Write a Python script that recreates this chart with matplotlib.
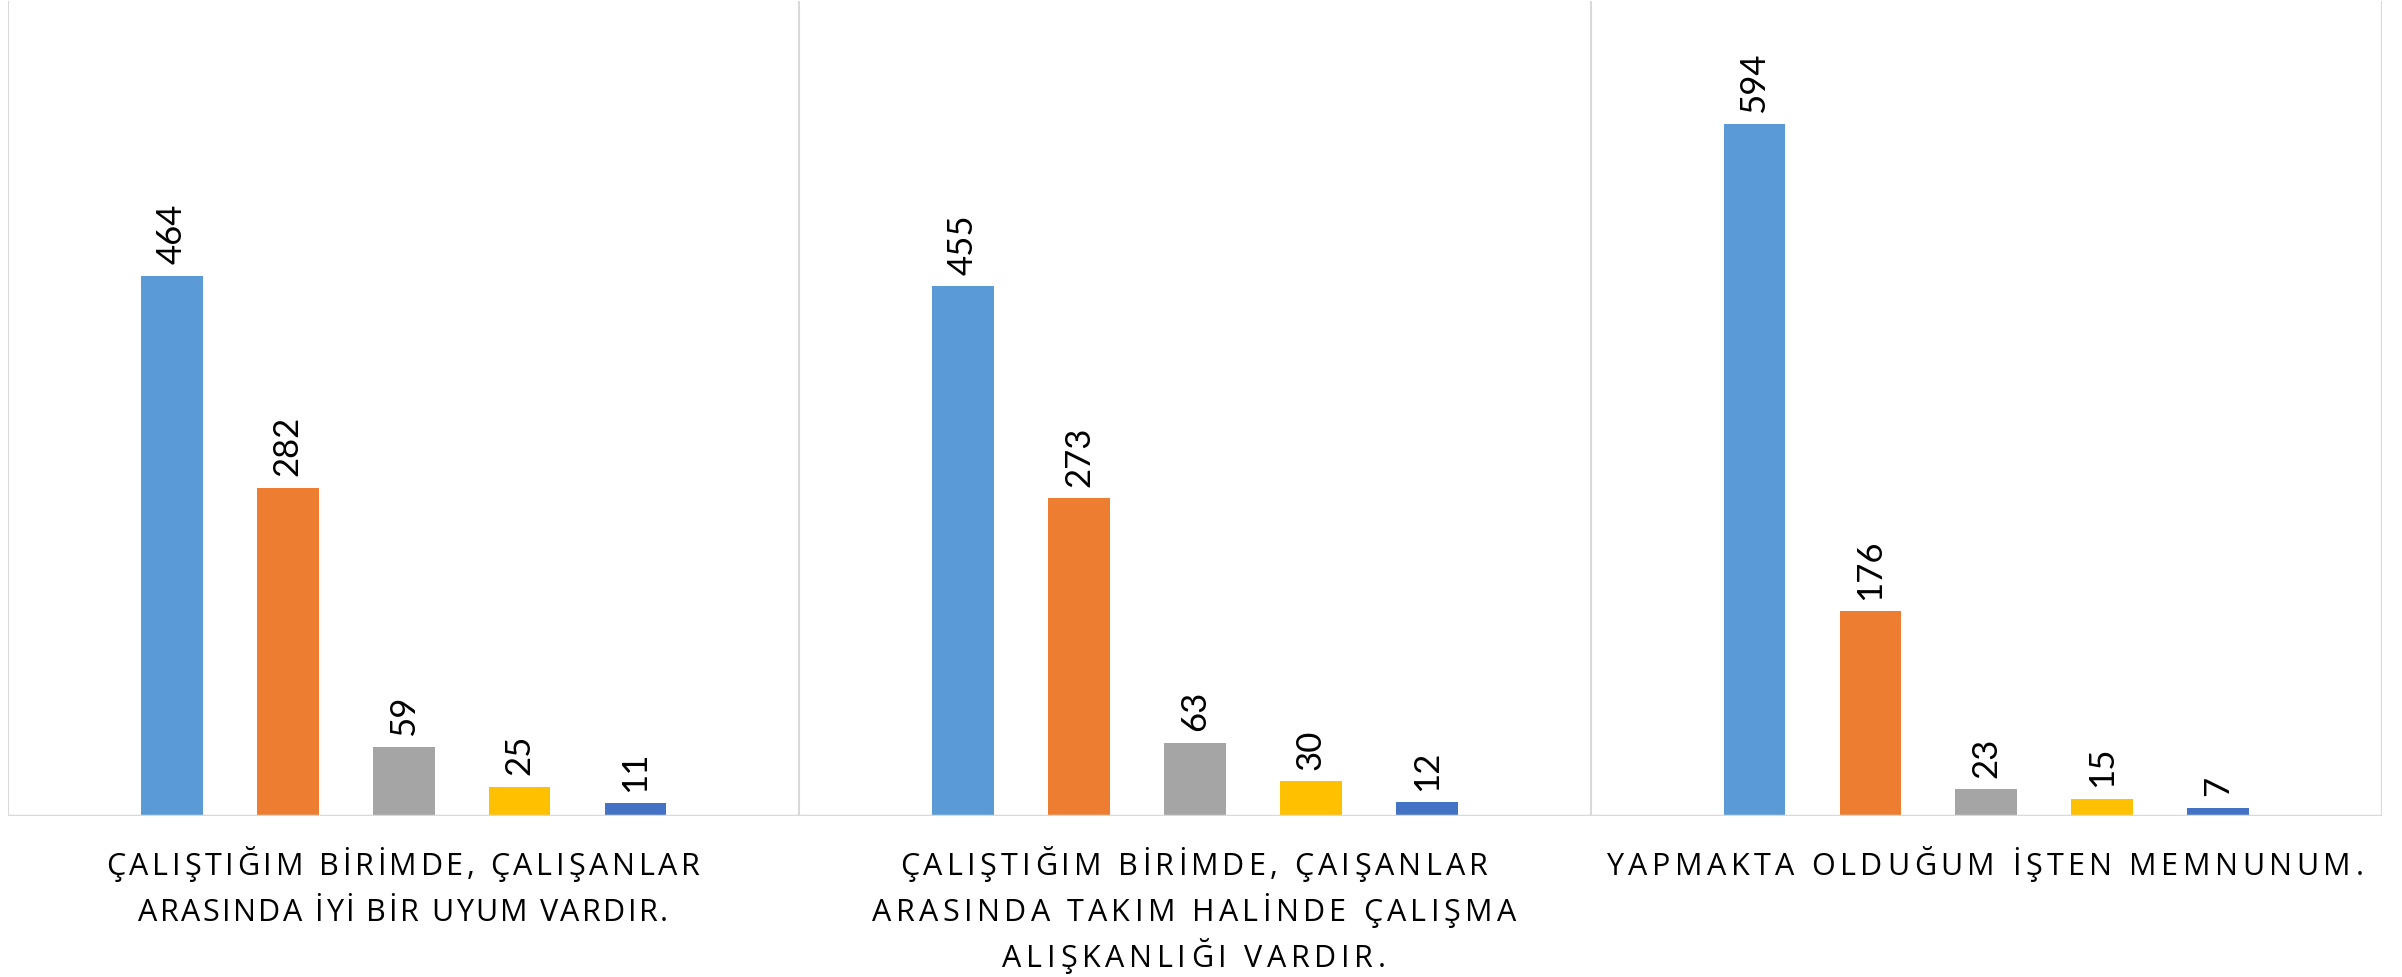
import matplotlib
matplotlib.use("Agg")
import matplotlib.pyplot as plt
import numpy as np
from matplotlib.font_manager import FontProperties

# data
categories = [
    ["ÇALIŞTIĞIM BİRİMDE, ÇALIŞANLAR", "ARASINDA İYİ BİR UYUM VARDIR."],
    ["ÇALIŞTIĞIM BİRİMDE, ÇAIŞANLAR", "ARASINDA TAKIM HALİNDE ÇALIŞMA", "ALIŞKANLIĞI VARDIR."],
    ["YAPMAKTA OLDUĞUM İŞTEN MEMNUNUM."],
]
series_1 = [464, 455, 594]
series_2 = [282, 273, 176]
series_3 = [59, 63, 23]
series_4 = [25, 30, 15]
series_5 = [11, 12, 7]
series = [series_1, series_2, series_3, series_4, series_5]
colors = ["#5B9BD5", "#ED7D31", "#A5A5A5", "#FFC000", "#4472C4"]

# label line widths in pixels, as measured on the reference
line_widths = [[594, 530], [588, 644, 384], [757]]

W, H = 2402, 978
fig = plt.figure(figsize=(W / 100, H / 100), dpi=100)
ax = fig.add_axes([8 / W, (H - 817) / H, (2382 - 8) / W, 815 / H])

x = np.arange(len(series_1))
step = 0.1465
width = 0.078
for j, vals in enumerate(series):
    bars = ax.bar(x + (j - 2) * step, vals, width, color=colors[j], zorder=2)
    for b, v in zip(bars, vals):
        ax.annotate(str(v), (b.get_x() + b.get_width() / 2, v), xytext=(0, 9),
                    textcoords="offset points", rotation=90, ha="center", va="bottom",
                    fontsize=25, family="Lato", color="#000000")

ax.set_xlim(-0.5, 2.5)
ax.set_ylim(0, 700)
for xv in [-0.5, 0.5, 1.5, 2.5]:
    ax.axvline(xv, color="#D9D9D9", lw=1.5, zorder=1)
ax.axhline(0, color="#D9D9D9", lw=2.5, zorder=3)
for s in ax.spines.values():
    s.set_visible(False)
ax.set_xticks([])
ax.set_yticks([])

# category labels, drawn per character so the letter spacing can be set
renderer = fig.canvas.get_renderer()


def spaced_line(xc, yb, s, size, total):
    prop = FontProperties(family="Open Sans", size=size)
    ws = [renderer.get_text_width_height_descent(c, prop, ismath=False)[0] for c in s]
    track = (total - sum(ws)) / (len(s) - 1)
    xp = xc - total / 2
    for c, w in zip(s, ws):
        fig.text(xp / W, 1 - yb / H, c, fontproperties=prop, ha="left", va="baseline")
        xp += w + track


baselines = [875, 921, 967]
centers = [403, 1194, 1985]
for i, lines in enumerate(categories):
    for k, line in enumerate(lines):
        spaced_line(centers[i], baselines[k], line, 22, line_widths[i][k])

fig.savefig("out.png", dpi=100)
